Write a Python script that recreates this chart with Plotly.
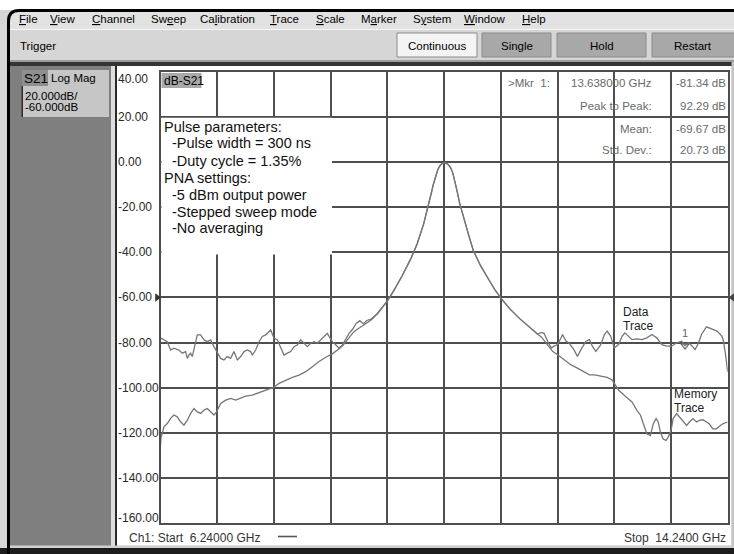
import plotly.graph_objects as go

# ---------------- chart values ----------------
start_ghz = 6.24
stop_ghz = 14.24
freq_per_div = 0.8
ref_level_db = -60.0
db_per_div = 20.0
y_top_db = 40.0
y_bottom_db = -160.0
y_ticks = [40, 20, 0, -20, -40, -60, -80, -100, -120, -140, -160]

# Data trace, left noise floor (GHz, dB)
data_left_freq = [6.24, 6.254, 6.287, 6.334, 6.381, 6.428, 6.499, 6.546, 6.593, 6.617, 6.640, 6.663,
                  6.687, 6.725, 6.758, 6.805, 6.852, 6.899, 6.946, 6.993, 7.030, 7.087, 7.134, 7.181,
                  7.228, 7.275, 7.322, 7.370, 7.417, 7.463, 7.510, 7.534, 7.581, 7.628, 7.675, 7.722,
                  7.793, 7.840, 7.887, 7.934, 7.981, 8.028, 8.075, 8.122, 8.170, 8.217, 8.263, 8.310,
                  8.357, 8.405, 8.452, 8.499, 8.546, 8.593, 8.617, 8.663, 8.710, 8.758, 8.805, 8.852,
                  8.899, 8.95, 9.00, 9.05, 9.10, 9.15, 9.21]
data_left_db = [-78.5, -78.1, -78.8, -79.6, -83.3, -82.5, -83.3, -84.7, -84.0, -87.0, -85.5, -84.7,
                -86.2, -81.0, -76.6, -76.6, -78.8, -79.6, -78.8, -81.8, -84.0, -87.0, -87.7, -86.2,
                -87.0, -84.0, -87.7, -86.2, -84.0, -83.3, -84.0, -85.5, -83.3, -79.6, -77.3, -76.6,
                -74.4, -78.1, -78.8, -81.8, -85.5, -84.7, -84.0, -81.8, -81.0, -78.8, -80.3, -81.8,
                -80.3, -79.6, -80.3, -78.8, -77.3, -75.9, -77.3, -79.6, -81.0, -82.5, -81.0, -78.1,
                -75.9, -74.0, -71.5, -70.3, -71.6, -70.2, -69.6]

# Memory trace, left part
mem_left_freq = [6.24, 6.245, 6.264, 6.287, 6.334, 6.381, 6.428, 6.475, 6.522, 6.569, 6.617, 6.664,
                 6.711, 6.758, 6.805, 6.852, 6.899, 6.946, 6.993, 7.030, 7.087, 7.158, 7.228, 7.299,
                 7.370, 7.440, 7.534, 7.628, 7.722, 7.830, 7.911, 8.005, 8.099, 8.193, 8.287, 8.381,
                 8.475, 8.570, 8.663, 8.734, 8.805, 8.875, 8.923, 8.95, 9.00, 9.05, 9.10, 9.15, 9.21]
mem_left_db = [-125.5, -122.0, -120.3, -117.3, -115.9, -113.6, -112.1, -112.9, -115.1, -116.6, -114.4, -111.4,
               -109.2, -110.7, -111.4, -109.9, -109.2, -110.7, -112.1, -110.7, -107.0, -105.5, -104.7, -105.5,
               -104.7, -103.7, -103.3, -102.2, -101.3, -99.9, -98.1, -96.6, -95.4, -94.4, -92.9, -90.7,
               -88.4, -86.5, -85.0, -83.3, -81.5, -78.8, -76.8, -75.8, -74.4, -73.3, -72.4, -71.2, -70.0]

# Resonance peak (shared by both traces)
peak_freq = [9.30, 9.37, 9.44, 9.53, 9.65, 9.77, 9.86, 9.95, 10.02, 10.06, 10.09, 10.12, 10.15, 10.18,
             10.21, 10.24, 10.27, 10.30, 10.33, 10.36, 10.39, 10.42, 10.46, 10.51, 10.58, 10.65, 10.75,
             10.86, 10.96, 11.04, 11.17, 11.31, 11.44, 11.56]
peak_db = [-67.1, -64.2, -61.5, -57.0, -50.3, -42.8, -36.2, -27.5, -19.3, -13.6, -9.6, -6.2, -3.4, -1.7,
           -0.7, -0.4, -0.6, -1.2, -2.4, -4.6, -8.1, -12.5, -18.4, -24.3, -31.7, -39.1, -45.7,
           -51.6, -56.8, -60.3, -65.2, -69.5, -73.2, -76.3]

# Data trace, right noise floor
data_right_freq = [11.61, 11.65, 11.70, 11.75, 11.79, 11.84, 11.89, 11.91, 11.96, 12.00, 12.07, 12.12,
                   12.17, 12.24, 12.29, 12.33, 12.38, 12.45, 12.50, 12.54, 12.59, 12.64, 12.70, 12.75,
                   12.79, 12.84, 12.89, 12.96, 13.03, 13.10, 13.17, 13.24, 13.31, 13.38, 13.45, 13.52,
                   13.59, 13.638, 13.69, 13.74, 13.78, 13.83, 13.87, 13.94, 14.02, 14.09, 14.16, 14.18,
                   14.21, 14.23, 14.24]
data_right_db = [-75.5, -76.0, -79.4, -82.4, -81.6, -80.9, -77.9, -76.4, -79.4, -80.1, -83.1, -86.1,
                 -83.1, -79.4, -78.7, -81.6, -83.9, -80.9, -76.4, -74.9, -77.2, -82.4, -80.9, -77.2,
                 -75.7, -77.2, -78.7, -78.4, -78.7, -77.9, -76.4, -77.9, -80.9, -81.6, -81.6, -80.1,
                 -79.4, -81.34, -80.1, -81.6, -83.1, -80.1, -76.4, -73.0, -73.9, -74.9, -77.2, -79.4,
                 -85.4, -90.6, -93.0]

# Memory trace, right part
mem_right_freq = [11.61, 11.65, 11.70, 11.77, 11.84, 11.93, 12.03, 12.12, 12.21, 12.29, 12.36, 12.45,
                  12.54, 12.61, 12.66, 12.70, 12.78, 12.84, 12.89, 12.96, 13.01, 13.05, 13.10, 13.15,
                  13.19, 13.23, 13.26, 13.29, 13.33, 13.37, 13.40, 13.44, 13.47, 13.52, 13.56, 13.61,
                  13.66, 13.70, 13.75, 13.80, 13.84, 13.89, 13.94, 13.98, 14.03, 14.08, 14.12, 14.17, 14.24]
mem_right_db = [-77.5, -79.0, -80.9, -83.9, -85.4, -87.6, -89.9, -91.3, -92.8, -94.3, -94.3, -94.8,
                -95.4, -96.6, -98.8, -101.0, -103.3, -104.8, -106.3, -110.0, -112.2, -116.0, -120.4, -121.2,
                -116.0, -113.7, -115.2, -119.7, -122.7, -123.4, -122.0, -119.0, -113.7, -111.5, -113.0, -115.2,
                -116.7, -115.2, -113.7, -115.2, -114.5, -114.2, -115.2, -116.0, -118.2, -118.2, -117.2, -116.0, -115.2]

marker_freq = 13.638
marker_db = -81.34

readout_names = ["13.638000 GHz", "Peak to Peak:", "Mean:", "Std. Dev.:"]
readout_values = ["-81.34 dB", "92.29 dB", "-69.67 dB", "20.73 dB"]

pulse_lines = ["Pulse parameters:", "-Pulse width = 300 ns", "-Duty cycle = 1.35%",
               "PNA settings:", "-5 dBm output power", "-Stepped sweep mode", "-No averaging"]
pulse_indent = [0, 1, 1, 0, 1, 1, 1]

menu_items = ["File", "View", "Channel", "Sweep", "Calibration", "Trace", "Scale", "Marker",
              "System", "Window", "Help"]
menu_underline = [0, 0, 0, 2, 2, 0, 0, 1, 1, 0, 0]
buttons = ["Continuous", "Single", "Hold", "Restart"]

# ---------------- layout helpers (screen pixels) ----------------
W, H = 734, 554
GX0, GX1 = 160.6, 727.7      # grid left / right
GY0, GY1 = 71.8, 523.1       # grid top / bottom
FONT = "Liberation Sans, Arial, sans-serif"


def px(x):
    return x / W


def py(y):
    return 1 - y / H


shapes = []
annotations = []


def rect(x0, y0, x1, y1, fill, line=None, lw=0, layer="below"):
    shapes.append(dict(type="rect", xref="paper", yref="paper",
                       x0=px(x0), x1=px(x1), y0=py(y1), y1=py(y0),
                       fillcolor=fill, line=dict(color=line or fill, width=lw), layer=layer))


def path(points, fill=None, line="#000", lw=0, closed=True, layer="above"):
    d = "M " + " L ".join(f"{px(x):.5f},{py(y):.5f}" for x, y in points)
    if closed:
        d += " Z"
    shapes.append(dict(type="path", xref="paper", yref="paper", path=d,
                       fillcolor=fill or "rgba(0,0,0,0)", line=dict(color=line, width=lw), layer=layer))


def text(x, y, s, size=11.5, color="#000", xanchor="left", family=FONT):
    annotations.append(dict(xref="paper", yref="paper", x=px(x), y=py(y), text=s, showarrow=False,
                            xanchor=xanchor, yanchor="middle", borderpad=0,
                            font=dict(size=size, color=color, family=family)))


def y_px(db):
    return GY0 + (y_top_db - db) / (y_top_db - y_bottom_db) * (GY1 - GY0)


# ---------------- window chrome ----------------
rect(0, 0, W, 10, "#ffffff")
rect(10, 12, W, 29, "#e2e2e2")
rect(10, 29, W, 30, "#f6f6f6")
rect(10, 30, W, 61, "#d6d6d6")
# window border with rounded corner
shapes.append(dict(type="path", xref="paper", yref="paper",
                   path=(f"M {px(8.5):.5f},{py(554):.5f} L {px(8.5):.5f},{py(21):.5f} "
                         f"Q {px(8.5):.5f},{py(10.5):.5f} {px(19):.5f},{py(10.5):.5f} "
                         f"L {px(734):.5f},{py(10.5):.5f}"),
                   line=dict(color="#000000", width=3), layer="above"))

# menu bar
menu_x = [18, 49, 91, 150, 199, 269, 315, 360, 412, 463, 521]
for name, ui, mx in zip(menu_items, menu_underline, menu_x):
    s = (name[:ui] + '<span style="text-decoration:underline">' + name[ui] + "</span>" + name[ui + 1:])
    text(mx, 18.5, s, size=11.5)

# toolbar
text(19, 46, "Trigger", size=11.5)
btn_x0 = [397, 482, 557, 652]
btn_x1 = [477, 551, 646, 736]
btn_fill = ["#f4f4f4", "#a8a8a8", "#a8a8a8", "#a8a8a8"]
for name, bx0, bx1, bf in zip(buttons, btn_x0, btn_x1, btn_fill):
    rect(bx0, 33, bx1, 57, bf, line="#8a8a8a", lw=1)
    text((bx0 + min(bx1, 734)) / 2, 45.5, name, size=11.5, xanchor="center")

rect(10, 60, W, 62, "#9c9c9c")
rect(10, 62, W, 66, "#343434")

# left channel panel
rect(10, 66, 111, 548, "#7f7f7f")
rect(22, 70, 109, 117, "#c6c6c6")
rect(22, 70, 48, 86, "#8e8e8e")
rect(21.5, 86, 23, 117, "#2e2e2e")
text(23, 78.5, "S21", size=13.5)
text(50, 78, "Log Mag", size=11.5)
text(23.5, 95.5, "20.000dB/", size=11.5)
text(23.5, 106.5, "-60.000dB", size=11.5)

# separator + white plot panel
rect(111, 66, 115, 548, "#dedede")
rect(115, 66, 117, 548, "#2a2a2a")
rect(117, 66, 731.5, 545.5, "#ffffff")
rect(731.5, 62, W, 548, "#c4c4c4")
rect(10, 545.5, W, 548, "#cfcfcf")
rect(0, 548, W, H, "#1c1c1c")

# ---------------- grid-area overlays ----------------
# trace title
rect(161.5, 73, 201.5, 88, "#a9a9a9", layer="above")
text(162.5, 80.5, "dB-S21", size=12)

# annotation box covering grid
rect(161.4, 117.7, 332, 254.6, "#ffffff", layer="above")
line_y = [126.7, 143.3, 160.5, 177.8, 194.8, 211.6, 228.3]
for s, ind, ly in zip(pulse_lines, pulse_indent, line_y):
    text(163.3 if ind == 0 else 170.6, ly, s, size=14.5, color="#111")

# marker readout block
ro_y = [83.3, 106.2, 128.6, 150.2]
text(507, ro_y[0], ">Mkr\u00a0 1:", size=11.5, color="#6a6a6a")
for name, val, ry in zip(readout_names, readout_values, ro_y):
    text(652.5, ry, name, size=11.5, color="#6a6a6a", xanchor="right")
    text(726.5, ry, val, size=11.5, color="#6a6a6a", xanchor="right")

# reference level arrows
yr = y_px(ref_level_db)
path([(155.2, yr - 4.2), (161.0, yr), (155.2, yr + 4.2)], fill="#333333", line="#333333", lw=0)
path([(734.5, yr - 4.5), (728.6, yr), (734.5, yr + 4.5)], fill="#444444", line="#444444", lw=0)

# y tick labels
for v in y_ticks:
    shift = -7.5 if v == y_ticks[0] else (5 if v == y_ticks[-1] else 0)
    annotations.append(dict(xref="paper", yref="y", x=px(117.2), y=v, yshift=shift,
                            text=f"{v:.2f}", showarrow=False, xanchor="left", yanchor="middle",
                            borderpad=0, font=dict(size=12, color="#2a2a2a", family=FONT)))

# trace labels
text(621.5, 311.7, "Data", size=12, color="#222")
text(621.5, 326.0, "Trace", size=12, color="#222")
text(672.5, 394.3, "Memory", size=12, color="#222")
text(672.5, 407.5, "Trace", size=12, color="#222")

# footer
text(128, 537.5, "Ch1: Start\u00a0 6.24000 GHz", size=12, color="#333")
path([(278, 536.5), (297, 536.5)], line="#555555", lw=1.6, closed=False)
text(727, 538, "Stop\u00a0 14.2400 GHz", size=12, color="#333", xanchor="right")

# ---------------- traces ----------------
data_freq = data_left_freq + peak_freq + data_right_freq
data_db = data_left_db + peak_db + data_right_db
mem_freq = mem_left_freq + peak_freq + mem_right_freq
mem_db = mem_left_db + peak_db + mem_right_db

fig = go.Figure()
fig.add_trace(go.Scatter(x=mem_freq, y=mem_db, mode="lines", name="Memory Trace",
                         line=dict(color="#767676", width=1.3), cliponaxis=True))
fig.add_trace(go.Scatter(x=data_freq, y=data_db, mode="lines", name="Data Trace",
                         line=dict(color="#767676", width=1.3), cliponaxis=True))
fig.add_trace(go.Scatter(x=[marker_freq], y=[marker_db], mode="markers+text", text=["1"],
                         textposition="top center",
                         textfont=dict(size=11, color="#666", family=FONT),
                         marker=dict(symbol="triangle-down-open", size=7,
                                     color="#666", line=dict(width=1.2, color="#666")),
                         cliponaxis=False))

grid_col = "#4e4e4e"
fig.update_layout(
    width=W, height=H, autosize=False,
    margin=dict(l=0, r=0, t=0, b=0, pad=0),
    paper_bgcolor="#d6d6d6", plot_bgcolor="#ffffff",
    showlegend=False,
    shapes=shapes, annotations=annotations,
    xaxis=dict(domain=[GX0 / W, GX1 / W], range=[start_ghz, stop_ghz], tick0=start_ghz,
               dtick=freq_per_div, showgrid=True, gridcolor=grid_col, gridwidth=1.5,
               zeroline=False, showline=True, linecolor=grid_col, linewidth=1.5, mirror=True,
               showticklabels=False, ticks="", fixedrange=True),
    yaxis=dict(domain=[1 - GY1 / H, 1 - GY0 / H], range=[y_bottom_db, y_top_db], tick0=y_bottom_db,
               dtick=db_per_div, showgrid=True, gridcolor=grid_col, gridwidth=1.5,
               zeroline=False, showline=True, linecolor=grid_col, linewidth=1.5, mirror=True,
               showticklabels=False, ticks="", fixedrange=True),
)

fig.write_html("out.html", config={"displayModeBar": False},
               post_script="document.body.style.margin='0px';document.body.style.overflow='hidden';")
